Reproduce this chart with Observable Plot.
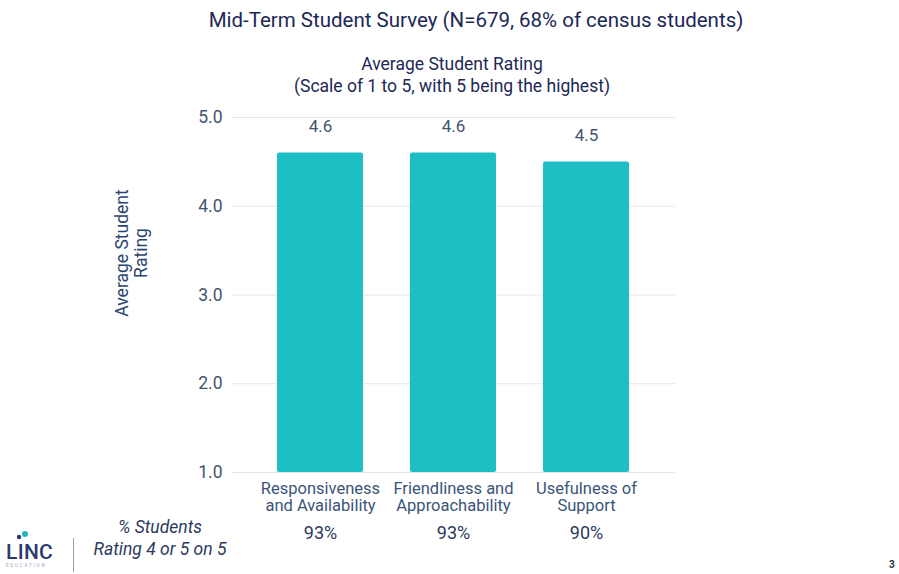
<!DOCTYPE html>
<html>
<head>
<meta charset="utf-8">
<script src="https://cdn.jsdelivr.net/npm/d3@7"></script>
<script src="https://cdn.jsdelivr.net/npm/@observablehq/plot@0.6"></script>
<style>
  html, body { margin: 0; padding: 0; background: #fff; }
  #wrap { position: relative; width: 899px; height: 574px; overflow: hidden; font-family: Roboto, "Noto Sans", sans-serif; background: #fff; }
  #chart { position: absolute; left: 0; top: 0; }
  .abs { position: absolute; white-space: nowrap; }
  #title { left: 0; width: 952px; top: 8px; text-align: center; font-size: 20.5px; color: #1c2856; }
  #subtitle { left: 0; width: 904px; top: 53px; text-align: center; font-size: 17.5px; line-height: 22px; color: #1c2856; }
  #ylabel { left: 132px; top: 253px; transform: translate(-50%, -50%) rotate(-90deg); text-align: center; font-size: 17.5px; line-height: 19px; color: #2b4670; }
  #note { left: 160px; top: 516px; transform: translateX(-50%); text-align: center; font-size: 17.5px; line-height: 22px; font-style: italic; color: #2b3a5e; }
  #divider { left: 73px; top: 538px; width: 1px; height: 34px; background: #9aa3ad; }
  #page { left: 889px; top: 559px; font-size: 10px; color: #333; font-weight: bold; }
</style>
</head>
<body>
<div id="wrap">
  <div id="chart"></div>
  <div id="title" class="abs">Mid-Term Student Survey (N=679, 68% of census students)</div>
  <div id="subtitle" class="abs">Average Student Rating<br>(Scale of 1 to 5, with 5 being the highest)</div>
  <div id="ylabel" class="abs">Average Student<br>Rating</div>
  <div id="note" class="abs">% Students<br>Rating 4 or 5 on 5</div>
  <div id="divider" class="abs"></div>
  <div id="page" class="abs">3</div>
  <svg class="abs" style="left:4px;top:528px" width="52" height="44" viewBox="0 0 52 44">
    <circle cx="21" cy="6" r="3" fill="#22b5c0"/>
    <circle cx="15" cy="9" r="2.2" fill="#2b3a6e"/>
    <text x="2" y="31" font-family="Roboto, sans-serif" font-size="21" font-weight="500" fill="#2b3a6e" letter-spacing="0.3">LINC</text>
    <text x="2" y="39" font-family="Roboto, sans-serif" font-size="4.5" fill="#9aa9c4" letter-spacing="1.8">EDUCATION</text>
  </svg>
</div>
<script>
const categories = ["Responsiveness\nand Availability", "Friendliness and\nApproachability", "Usefulness of\nSupport"];
const ratings = [4.6, 4.6, 4.5];
const pctHigh = ["93%", "93%", "90%"];
const yTicks = [1, 2, 3, 4, 5];

const data = categories.map((c, i) => ({category: c, rating: ratings[i], pct: pctHigh[i]}));

const chart = Plot.plot({
  width: 899,
  height: 574,
  marginTop: 117,
  marginBottom: 102,
  marginLeft: 232,
  marginRight: 224,
  style: {fontFamily: "Roboto, 'Noto Sans', sans-serif", background: "transparent"},
  x: {domain: categories, paddingInner: 0.35, paddingOuter: 0.34, axis: null},
  y: {domain: [1, 5], axis: null},
  marks: [
    Plot.gridY(yTicks, {stroke: "#e6e6e6", strokeOpacity: 1, strokeWidth: 1}),
    Plot.axisY(yTicks, {tickSize: 0, tickPadding: 10, tickFormat: d3.format(".1f"), fontSize: 17.5, color: "#44546e", label: null}),
    Plot.barY(data, {x: "category", y1: 1, y2: "rating", fill: "#1ebfc4", rx: 2}),
    Plot.text(data, {x: "category", y: "rating", text: d => d3.format(".1f")(d.rating), dy: -26, fontSize: 17, fill: "#44546e"}),
    Plot.axisX({tickSize: 0, tickPadding: 9, fontSize: 16.5, color: "#3a5578", lineHeight: 1.03, label: null}),
    Plot.text(data, {x: "category", text: "pct", frameAnchor: "bottom", dy: 66, fontSize: 18, fill: "#2b3a5e"})
  ]
});
document.getElementById("chart").appendChild(chart);
</script>
</body>
</html>
